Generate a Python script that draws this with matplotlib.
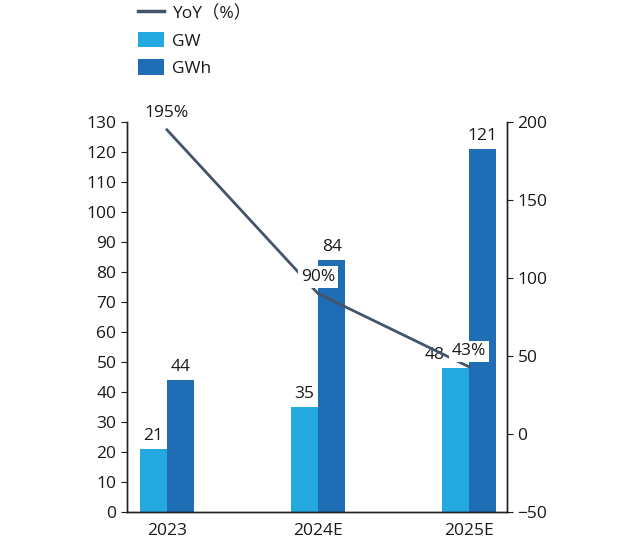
import matplotlib.pyplot as plt
import numpy as np
from matplotlib.patches import Patch
from matplotlib.lines import Line2D

plt.rcParams['font.family'] = ['Open Sans', 'Noto Sans CJK SC', 'DejaVu Sans']

# 数据
years = ['2023', '2024E', '2025E']
gw = [21, 35, 48]
gwh = [44, 84, 121]
yoy = [195, 90, 43]
yoy_labels = ['195%', '90%', '43%']

c_gw = '#23a8e0'
c_gwh = '#1f6db5'
c_line = '#44546a'
c_txt = '#1a1a1a'
fs = 12.5

fig = plt.figure(figsize=(6.19, 5.52), dpi=100)
ax = fig.add_axes([0.205, 0.0725, 0.614, 0.7065])
ax2 = ax.twinx()

x = np.arange(len(years))
w = 0.18
ax.bar(x - w/2, gw, w, color=c_gw, zorder=2)
ax.bar(x + w/2, gwh, w, color=c_gwh, zorder=2)

# GW 数据标签 (2025E 的 48 往左挪，避开 43%)
gw_dx = [0, 0, -0.14]
for xi, v, dx in zip(x, gw, gw_dx):
    ax.text(xi - w/2 + dx, v + 1.5, str(v), ha='center', va='bottom', fontsize=fs, color=c_txt)
for xi, v in zip(x, gwh):
    ax.text(xi + w/2, v + 1.5, str(v), ha='center', va='bottom', fontsize=fs, color=c_txt)

ax.set_xlim(-0.265, 2.25)
ax.set_ylim(0, 130)
ax.set_yticks(np.arange(0, 131, 10))
ax.set_xticks(x)
ax.set_xticklabels(years)
ax.tick_params(axis='x', length=0, labelsize=fs, pad=8, colors=c_txt)
ax.tick_params(axis='y', labelsize=fs, direction='out', length=4, colors=c_txt)

ax2.set_ylim(-50, 200)
ax2.set_yticks(np.arange(-50, 201, 50))
ax2.tick_params(axis='y', labelsize=fs, direction='out', length=4, colors=c_txt)

# 折线放在柱子上方
ax2.plot(x, yoy, color=c_line, linewidth=2, zorder=3)
ax2.set_zorder(ax.get_zorder() + 1)
ax2.patch.set_visible(False)

ax2.text(x[0], yoy[0] + 11, yoy_labels[0], ha='center', va='center', fontsize=fs, color=c_txt)
ax2.text(x[1], yoy[1] + 10.5, yoy_labels[1], ha='center', va='center', fontsize=fs,
         color=c_txt, bbox=dict(facecolor='white', edgecolor='none', pad=2), zorder=4)
ax2.text(x[2], yoy[2] + 10, yoy_labels[2], ha='center', va='center', fontsize=fs,
         color=c_txt, bbox=dict(facecolor='white', edgecolor='none', pad=2), zorder=4)

for a in (ax, ax2):
    a.spines['top'].set_visible(False)
    for s in a.spines.values():
        s.set_color('#222222')
        s.set_linewidth(1)

handles = [Line2D([0], [0], color=c_line, linewidth=2.5),
           Patch(facecolor=c_gw), Patch(facecolor=c_gwh)]
labels = ['YoY（%）', 'GW', 'GWh']
fig.legend(handles, labels, loc='upper left', bbox_to_anchor=(0.197, 1.02), frameon=False,
           fontsize=fs, handlelength=1.55, handleheight=1.0, labelspacing=0.55, handletextpad=0.45,
           labelcolor=c_txt)

fig.savefig('out.png', dpi=100)
